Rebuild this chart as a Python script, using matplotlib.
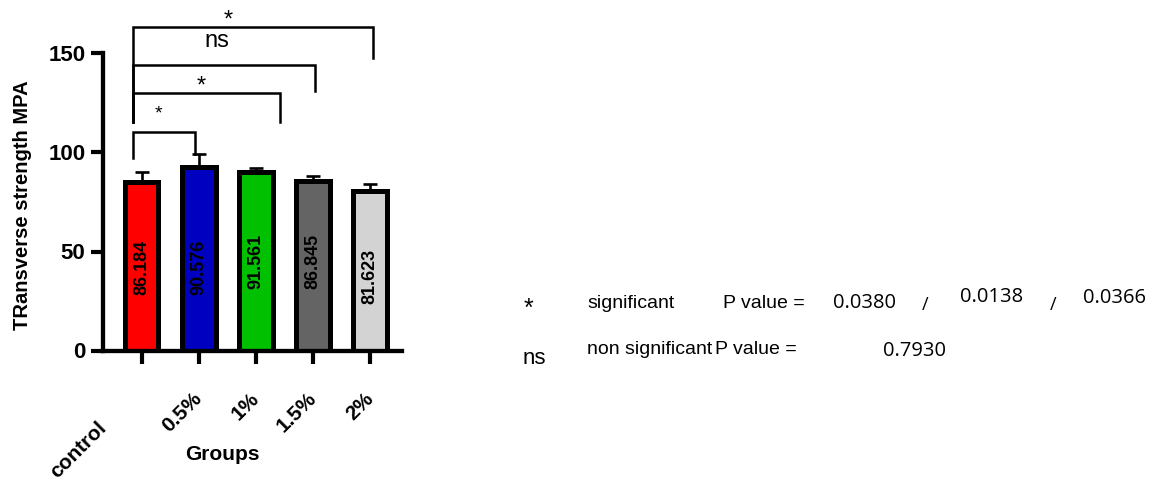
import matplotlib.pyplot as plt
import matplotlib.transforms as mtransforms

plt.rcParams['font.family'] = ['Liberation Sans', 'DejaVu Sans']

# data
groups = ["control", "0.5%", "1%", "1.5%", "2%"]
heights = [85.3, 92.5, 90.4, 85.8, 80.6]
errors = [4.6, 6.7, 1.6, 2.1, 3.3]
value_labels = ["86.184", "90.576", "91.561", "86.845", "81.623"]
colors = ["#FF0000", "#0000C0", "#00C000", "#646464", "#D3D3D3"]

# comparisons against control: (right group end, bracket top, right leg bottom, label)
brackets = [
    (0.935, 110.6, 99.2, "*"),
    (2.42, 130.2, 115.6, "*"),
    (3.04, 144.4, 130.9, "ns"),
    (4.06, 163.2, 147.5, "*"),
]
p_sig = ["0.0380", "0.0138", "0.0366"]
p_ns = "0.7930"

W, H = 1153, 482
fig = plt.figure(figsize=(W / 100, H / 100), dpi=100)
ax = fig.add_axes([103 / W, 1 - 350.5 / H, (402 - 103) / W, (350.5 - 53.5) / H])

x = list(range(len(groups)))
ax.bar(x, heights, width=0.59, color=colors, edgecolor="black", linewidth=3.6, zorder=2)
ax.errorbar(x, heights, yerr=[[0] * len(x), errors], fmt="none", ecolor="black",
            elinewidth=1.9, capsize=5, capthick=1.9, zorder=1)

# value text inside bars
label_y = [42, 42, 45, 45, 37.3]
for xi, txt, yy in zip(x, value_labels, label_y):
    ax.text(xi, yy, txt, rotation=90, ha="center", va="center", fontsize=13,
            fontweight="bold", color="black")

# significance brackets
left = -0.145
for i, (right, top, rbot, lab) in enumerate(brackets):
    lbot = 97.1 if i == 0 else 115.6
    ax.plot([left, left, right, right], [lbot, top, top, rbot], color="black",
            lw=1.8, clip_on=False, solid_joinstyle="miter", zorder=3)

ax.text(0.287, 119.5, "*", ha="center", va="center", fontsize=14, clip_on=False)
ax.text(1.04, 133.5, "*", ha="center", va="center", fontsize=17, clip_on=False)
ax.text(1.31, 156.5, "ns", ha="center", va="center", fontsize=17, clip_on=False)
ax.text(1.51, 166.5, "*", ha="center", va="center", fontsize=17, clip_on=False)

ax.set_xlim(-0.676, 4.56)
ax.set_ylim(0, 150)
ax.set_yticks([0, 50, 100, 150])
for s in ["top", "right"]:
    ax.spines[s].set_visible(False)
for s in ["left", "bottom"]:
    ax.spines[s].set_linewidth(3.1)
ax.tick_params(axis="y", length=8.6, width=3, pad=4, labelsize=16)
ax.tick_params(axis="x", length=9.5, width=3, pad=18)
for lab in ax.get_yticklabels():
    lab.set_fontweight("bold")

ax.set_xticks(x)
ax.set_xticklabels(groups, rotation=45, ha="right", va="top", fontsize=15, fontweight="bold")
for i, lab in enumerate(ax.get_xticklabels()):
    dx, dy = (5 / 72, 0) if i else (-31 / 100, -29 / 100)
    lab.set_transform(lab.get_transform() + mtransforms.ScaledTranslation(dx, dy, fig.dpi_scale_trans))

fig.text(222.5 / W, 1 - 455 / H, "Groups", ha="center", va="center", fontsize=15, fontweight="bold")
fig.text(23 / W, 1 - 205 / H, "TRansverse strength MPA", rotation=90, ha="center", va="center",
         fontsize=14.5, fontweight="bold")

# key at the right
num_font = ["Open Sans", "DejaVu Sans"]
fig.text(528 / W, 1 - 309 / H, "*", ha="center", va="center", fontsize=18)
fig.text(587 / W, 1 - 303 / H, "significant", ha="left", va="center", fontsize=14)
fig.text(723 / W, 1 - 303 / H, "P value =", ha="left", va="center", fontsize=14)
fig.text(833 / W, 1 - 302.5 / H, p_sig[0], ha="left", va="center", fontsize=14.5, family=num_font)
fig.text(925 / W, 1 - 305 / H, "/", ha="center", va="center", fontsize=13, family=num_font)
fig.text(960 / W, 1 - 297.5 / H, p_sig[1], ha="left", va="center", fontsize=14.5, family=num_font)
fig.text(1053 / W, 1 - 305 / H, "/", ha="center", va="center", fontsize=13, family=num_font)
fig.text(1083 / W, 1 - 298 / H, p_sig[2], ha="left", va="center", fontsize=14.5, family=num_font)

fig.text(523 / W, 1 - 358 / H, "ns", ha="left", va="center", fontsize=16)
fig.text(587 / W, 1 - 350 / H, "non significant", ha="left", va="center", fontsize=14)
fig.text(715 / W, 1 - 350 / H, "P value =", ha="left", va="center", fontsize=14)
fig.text(883 / W, 1 - 351 / H, p_ns, ha="left", va="center", fontsize=14.5, family=num_font)

fig.savefig("out.png", dpi=100)
